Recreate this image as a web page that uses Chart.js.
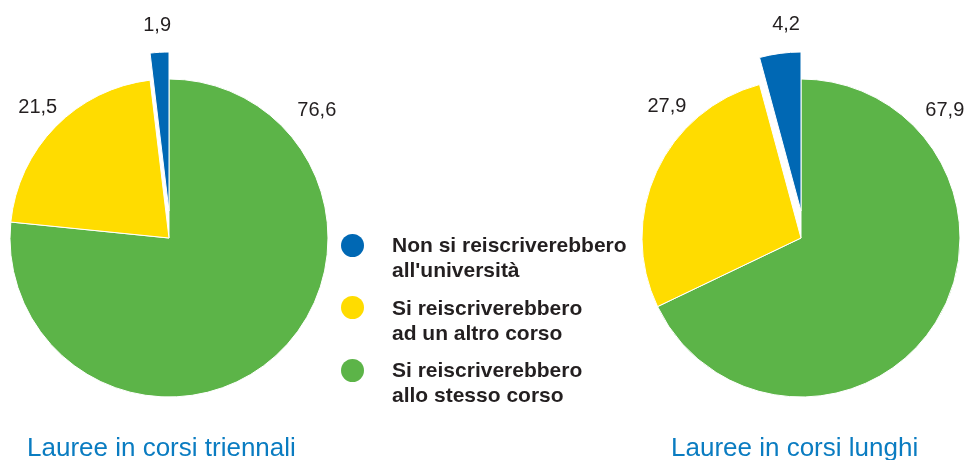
<!DOCTYPE html>
<html>
<head>
<meta charset="utf-8">
<script src="https://cdn.jsdelivr.net/npm/chart.js@4/dist/chart.umd.min.js"></script>
<style>
  html, body { margin:0; padding:0; width:969px; height:460px; overflow:hidden; background:#fff; }
  canvas { position:absolute; }
  #c1 { left:-69px; top:0px; }
  #c2 { left:563px; top:0px; }
  .legend { position:absolute; left:341px; top:232px; font-family:"Liberation Sans", Arial, sans-serif; font-weight:bold; font-size:21px; line-height:25px; color:#231f20; z-index:2; }
  .item { position:relative; padding-left:51px; margin-bottom:12.5px; }
  .dot { position:absolute; left:0; top:1.5px; width:23px; height:23px; border-radius:50%; }
  .title { position:absolute; top:434px; font-family:"Liberation Sans", Arial, sans-serif; font-size:26px; line-height:26px; color:#0a7cc1; white-space:nowrap; z-index:2; }
</style>
</head>
<body>
<canvas id="c1" width="476" height="476"></canvas>
<canvas id="c2" width="476" height="476"></canvas>
<div class="legend" id="legend"></div>
<div class="title" style="left:27px">Lauree in corsi triennali</div>
<div class="title" style="left:671px">Lauree in corsi lunghi</div>
<script>
// Categories in drawing order (clockwise from 12 o'clock)
const categories = ["Si reiscriverebbero allo stesso corso", "Si reiscriverebbero ad un altro corso", "Non si reiscriverebbero all'università"];
const legendLines = [["Non si reiscriverebbero", "all'università"], ["Si reiscriverebbero", "ad un altro corso"], ["Si reiscriverebbero", "allo stesso corso"]];
const triennali = [76.6, 21.5, 1.9];
const lunghi = [67.9, 27.9, 4.2];
const triennaliLabels = ["76,6", "21,5", "1,9"];
const lunghiLabels = ["67,9", "27,9", "4,2"];
const colors = ["#5cb448", "#ffdc00", "#0068b4"];
const legendColors = ["#0068b4", "#ffdc00", "#5cb448"];
const explodeIndex = 2;   // blue slice is pulled straight up
const explodePx = 27;

// Shift the exploded slice vertically (the original lifts it straight up)
const liftPlugin = {
  id: 'liftSlice',
  beforeDatasetsDraw(chart) {
    const arc = chart.getDatasetMeta(0).data[explodeIndex];
    if (arc && !arc._lifted) {
      const orig = arc.draw;
      arc.draw = function (ctx) {
        ctx.save();
        ctx.translate(0, -explodePx);
        orig.call(this, ctx);
        ctx.restore();
      };
      arc._lifted = true;
    }
  }
};

const labelPlugin = {
  id: 'valueLabels',
  afterDatasetsDraw(chart, args, opts) {
    const ctx = chart.ctx;
    const meta = chart.getDatasetMeta(0);
    ctx.save();
    ctx.font = '20px "Liberation Sans", Arial, sans-serif';
    ctx.fillStyle = '#231f20';
    ctx.textAlign = 'center';
    ctx.textBaseline = 'middle';
    meta.data.forEach((arc, i) => {
      const p = opts.place[i];
      const a = p.a * Math.PI / 180;
      const x = arc.x + Math.sin(a) * p.r;
      const y = arc.y - Math.cos(a) * p.r;
      ctx.fillText(opts.labels[i], x, y);
    });
    ctx.restore();
  }
};

function makePie(id, values, labels, place) {
  return new Chart(document.getElementById(id), {
    type: 'pie',
    data: {
      labels: categories,
      datasets: [{
        data: values,
        backgroundColor: colors,
        borderColor: '#ffffff',
        borderWidth: 1
      }]
    },
    options: {
      responsive: false,
      animation: false,
      devicePixelRatio: 1,
      radius: 159,
      layout: { padding: 0 },
      plugins: {
        legend: { display: false },
        tooltip: { enabled: false },
        valueLabels: { labels: labels, place: place }
      }
    },
    plugins: [liftPlugin, labelPlugin]
  });
}

makePie('c1', triennali, triennaliLabels, [{a:49.3, r:195}, {a:-45.2, r:185}, {a:-3.2, r:213}]);
makePie('c2', lunghi, lunghiLabels, [{a:48.5, r:192}, {a:-45.5, r:188}, {a:-4.0, r:214}]);

const lg = document.getElementById('legend');
legendLines.forEach((lines, i) => {
  const d = document.createElement('div');
  d.className = 'item';
  const dot = document.createElement('span');
  dot.className = 'dot';
  dot.style.background = legendColors[i];
  d.appendChild(dot);
  lines.forEach((t, j) => {
    if (j) d.appendChild(document.createElement('br'));
    d.appendChild(document.createTextNode(t));
  });
  lg.appendChild(d);
});
</script>
</body>
</html>
